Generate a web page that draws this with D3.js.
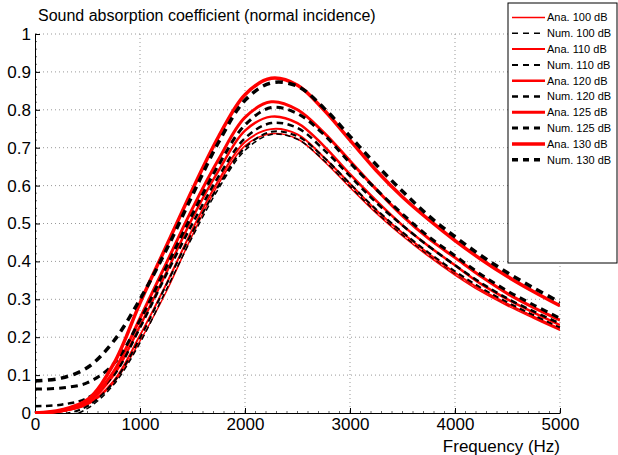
<!DOCTYPE html>
<html>
<head>
<meta charset="utf-8">
<script src="https://cdn.jsdelivr.net/npm/d3@7"></script>
<style>
  body { margin: 0; background: #fff; }
  text { font-family: "Liberation Sans", Arial, sans-serif; fill: #000; }
  .grid line { stroke: #999; stroke-dasharray: 1,3; }
</style>
</head>
<body>
<svg id="plot" width="618" height="455"></svg>
<script>
// frequency samples (Hz)
var freq = [0, 250, 500, 750, 1000, 1250, 1500, 1750, 2000, 2250, 2500, 2750, 3000, 3250, 3500, 3750, 4000, 4250, 4500, 4750, 5000];

// analytical absorption coefficients
var ana100 = [0, 0.004, 0.022, 0.08, 0.19, 0.32, 0.47, 0.605, 0.705, 0.737, 0.723, 0.665, 0.595, 0.527, 0.467, 0.413, 0.364, 0.32, 0.283, 0.25, 0.218];
var ana110 = [0, 0.004, 0.024, 0.085, 0.205, 0.34, 0.485, 0.615, 0.715, 0.749, 0.735, 0.675, 0.605, 0.535, 0.475, 0.42, 0.37, 0.325, 0.288, 0.254, 0.222];
var ana120 = [0, 0.005, 0.027, 0.1, 0.23, 0.37, 0.515, 0.64, 0.745, 0.782, 0.765, 0.705, 0.63, 0.56, 0.495, 0.44, 0.39, 0.34, 0.3, 0.265, 0.232];
var ana125 = [0, 0.006, 0.03, 0.11, 0.25, 0.395, 0.54, 0.67, 0.78, 0.821, 0.8, 0.74, 0.665, 0.59, 0.52, 0.46, 0.41, 0.36, 0.315, 0.278, 0.245];
var ana130 = [0, 0.008, 0.035, 0.13, 0.29, 0.44, 0.59, 0.73, 0.84, 0.883, 0.865, 0.8, 0.72, 0.64, 0.57, 0.51, 0.455, 0.405, 0.36, 0.32, 0.283];

// numerical absorption coefficients
var num100 = [-0.03, -0.015, 0.012, 0.075, 0.185, 0.325, 0.465, 0.593, 0.693, 0.735, 0.722, 0.667, 0.598, 0.53, 0.47, 0.417, 0.368, 0.325, 0.287, 0.254, 0.222];
var num110 = [-0.015, -0.005, 0.018, 0.082, 0.198, 0.338, 0.478, 0.6, 0.7, 0.742, 0.73, 0.675, 0.605, 0.537, 0.477, 0.423, 0.374, 0.33, 0.292, 0.258, 0.226];
var num120 = [0.018, 0.022, 0.04, 0.1, 0.225, 0.365, 0.5, 0.625, 0.725, 0.765, 0.752, 0.695, 0.625, 0.555, 0.495, 0.44, 0.39, 0.343, 0.302, 0.268, 0.236];
var num125 = [0.063, 0.066, 0.08, 0.13, 0.245, 0.385, 0.525, 0.655, 0.76, 0.806, 0.79, 0.735, 0.66, 0.59, 0.525, 0.465, 0.415, 0.365, 0.322, 0.285, 0.25];
var num130 = [0.085, 0.092, 0.12, 0.19, 0.3, 0.43, 0.575, 0.715, 0.825, 0.871, 0.862, 0.805, 0.73, 0.655, 0.585, 0.52, 0.465, 0.415, 0.37, 0.33, 0.292];

var legendLabels = ["Ana. 100 dB", "Num. 100 dB", "Ana. 110 dB", "Num. 110 dB", "Ana. 120 dB",
                    "Num. 120 dB", "Ana. 125 dB", "Num. 125 dB", "Ana. 130 dB", "Num. 130 dB"];
var xTicks = [0, 1000, 2000, 3000, 4000, 5000];
var yTicks = [0, 0.1, 0.2, 0.3, 0.4, 0.5, 0.6, 0.7, 0.8, 0.9, 1];

var series = [ana100, num100, ana110, num110, ana120, num120, ana125, num125, ana130, num130];
var widths = [1.5, 1.5, 2, 2, 2.5, 2.5, 3, 3, 3.5, 3.5];

var svg = d3.select("#plot"),
    margin = {top: 34, right: 58, bottom: 42, left: 35},
    width = +svg.attr("width") - margin.left - margin.right,
    height = +svg.attr("height") - margin.top - margin.bottom;
var g = svg.append("g").attr("transform", "translate(" + margin.left + "," + margin.top + ")");

var x = d3.scaleLinear().domain([0, 5000]).range([0, width]);
var y = d3.scaleLinear().domain([0, 1]).range([height, 0]);

// dotted grid
g.append("g").attr("class", "grid")
  .selectAll("line.v").data(xTicks.slice(1)).enter().append("line")
  .attr("x1", d => x(d)).attr("x2", d => x(d))
  .attr("y1", 0).attr("y2", height);
g.append("g").attr("class", "grid")
  .selectAll("line.h").data(yTicks.slice(1)).enter().append("line")
  .attr("x1", 0).attr("x2", width)
  .attr("y1", d => y(d)).attr("y2", d => y(d));

// minor ticks
g.append("g").selectAll("line").data(d3.range(0, 5001, 100)).enter().append("line")
  .attr("x1", d => x(d)).attr("x2", d => x(d))
  .attr("y1", height).attr("y2", height - 2)
  .attr("stroke", "#000").attr("stroke-width", 0.6);
g.append("g").selectAll("line").data(d3.range(0, 51).map(i => i / 50)).enter().append("line")
  .attr("x1", 0).attr("x2", 2)
  .attr("y1", d => y(d)).attr("y2", d => y(d))
  .attr("stroke", "#000").attr("stroke-width", 0.6);

// axes
var xAxis = g.append("g")
  .attr("transform", "translate(0," + height + ")")
  .call(d3.axisBottom(x).tickValues(xTicks).tickFormat(d3.format("d")).tickSizeInner(-5).tickSizeOuter(0).tickPadding(8));
var yAxis = g.append("g")
  .call(d3.axisLeft(y).tickValues(yTicks).tickFormat(d => d === 0 || d === 1 ? d : d3.format(".1f")(d)).tickSizeInner(-5).tickSizeOuter(0).tickPadding(8));
[xAxis, yAxis].forEach(function (a) {
  a.select(".domain").attr("stroke", "#000").attr("stroke-width", 1);
  a.selectAll("text").style("font-size", "17px").attr("fill", "#000");
});
xAxis.selectAll(".tick text").attr("dy", "0.55em");
yAxis.selectAll(".tick text").attr("x", -4);

// clip for curves
svg.append("defs").append("clipPath").attr("id", "clip")
  .append("rect").attr("width", width).attr("height", height + 1);

var line = d3.line()
  .x((d, i) => x(freq[i]))
  .y(d => y(d))
  .curve(d3.curveCatmullRom);

g.append("g").attr("clip-path", "url(#clip)")
  .selectAll("path").data(series).enter().append("path")
  .attr("d", d => line(d))
  .attr("fill", "none")
  .attr("stroke", (d, i) => i % 2 ? "#000" : "#ff0000")
  .attr("stroke-width", (d, i) => widths[i])
  .attr("stroke-dasharray", (d, i) => i % 2 ? (4 + widths[i]) + "," + (2 + widths[i]) : null);

// titles
svg.append("text")
  .attr("x", 38).attr("y", 21)
  .style("font-size", "16px")
  .text("Sound absorption coefficient (normal incidence)");
svg.append("text")
  .attr("x", margin.left + width).attr("y", 452)
  .attr("text-anchor", "end")
  .style("font-size", "17px")
  .text("Frequency (Hz)");

// legend
var legend = svg.append("g").attr("transform", "translate(508,3)");
legend.append("rect")
  .attr("width", 109).attr("height", 260)
  .attr("fill", "#fff").attr("stroke", "#000").attr("stroke-width", 1);
var item = legend.selectAll("g.item").data(legendLabels).enter().append("g")
  .attr("transform", (d, i) => "translate(0," + (14.5 + i * 15.8) + ")");
item.append("line")
  .attr("x1", 4).attr("x2", 37)
  .attr("stroke", (d, i) => i % 2 ? "#000" : "#ff0000")
  .attr("stroke-width", (d, i) => widths[i])
  .attr("stroke-dasharray", (d, i) => i % 2 ? "6,5" : null);
item.append("text")
  .attr("x", 39).attr("dy", "0.35em")
  .style("font-size", "11px")
  .text(d => d);
</script>
</body>
</html>
